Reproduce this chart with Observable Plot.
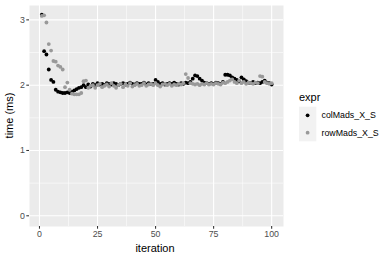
<!DOCTYPE html>
<html>
<head>
<meta charset="utf-8">
<script src="https://cdn.jsdelivr.net/npm/d3@7"></script>
<script src="https://cdn.jsdelivr.net/npm/@observablehq/plot@0.6"></script>
<style>
  html, body { margin: 0; padding: 0; background: #fff; }
  #chart { position: relative; width: 390px; height: 260px; }
</style>
</head>
<body>
<div id="chart"></div>
<script>
const seriesNames = ["colMads_X_S", "rowMads_X_S"];
const seriesColors = ["#000000", "#999999"];
const colMads = [3.08,2.52,2.47,2.24,2.08,2.05,1.93,1.90,1.89,1.88,
 1.88,1.89,1.88,1.90,1.92,1.94,1.96,1.97,2.00,1.97,
 2.01,1.98,2.02,2.00,2.03,2.01,2.02,2.00,2.03,2.02,
 2.01,2.03,2.02,2.00,2.02,2.03,2.01,2.02,2.04,2.02,
 2.01,2.03,2.02,2.02,2.04,2.01,2.03,2.02,2.02,2.08,
 2.05,2.02,2.03,2.01,2.02,2.03,2.02,2.04,2.02,2.01,
 2.03,2.02,2.04,2.03,2.05,2.10,2.15,2.14,2.10,2.07,
 2.04,2.03,2.02,2.03,2.02,2.04,2.03,2.02,2.05,2.16,
 2.16,2.15,2.12,2.10,2.08,2.06,2.12,2.09,2.06,2.04,
 2.03,2.05,2.03,2.04,2.03,2.05,2.07,2.04,2.03,2.01];
const rowMads = [3.06,3.07,2.96,2.63,2.53,2.37,2.36,2.30,2.28,2.24,
 1.97,2.04,1.93,1.87,1.86,1.86,1.86,1.88,2.06,2.07,
 1.96,1.99,2.00,1.96,2.00,2.02,1.97,1.99,2.01,1.98,
 2.03,1.99,1.96,2.00,2.02,1.97,2.01,1.99,2.03,1.98,
 2.00,2.02,1.99,2.00,2.03,1.99,2.01,2.02,2.00,2.03,
 2.00,1.98,2.01,2.02,2.00,2.02,1.99,2.01,2.00,2.02,
 2.01,2.03,2.17,2.11,2.03,2.02,2.01,2.02,2.00,2.02,
 2.01,2.03,2.01,2.02,2.01,2.03,2.02,2.01,2.04,2.03,
 2.05,2.07,2.09,2.05,2.03,2.07,2.03,2.05,2.02,2.04,
 2.03,2.02,2.04,2.03,2.14,2.13,2.05,2.03,2.02,2.03];
const xTicks = [0, 25, 50, 75, 100];
const xMinor = [12.5, 37.5, 62.5, 87.5];
const yTicks = [0, 1, 2, 3];
const yMinor = [0.5, 1.5, 2.5];

const data = [];
colMads.forEach((v, i) => data.push({iteration: i + 1, time: v, expr: seriesNames[0]}));
rowMads.forEach((v, i) => data.push({iteration: i + 1, time: v, expr: seriesNames[1]}));

const font = "Liberation Sans, Arial, Helvetica, sans-serif";

const plot = Plot.plot({
  width: 390,
  height: 260,
  marginLeft: 29,
  marginRight: 107,
  marginTop: 5,
  marginBottom: 34,
  style: {fontFamily: font, background: "#ffffff", overflow: "visible"},
  x: {domain: [-4.3, 105.1], ticks: xTicks, label: null, axis: null},
  y: {domain: [-0.164, 3.22], ticks: yTicks, label: null, axis: null},
  color: {domain: seriesNames, range: seriesColors},
  marks: [
    Plot.frame({fill: "#EBEBEB", stroke: null}),
    Plot.gridX(xMinor, {stroke: "#ffffff", strokeOpacity: 1, strokeWidth: 0.55}),
    Plot.gridY(yMinor, {stroke: "#ffffff", strokeOpacity: 1, strokeWidth: 0.55}),
    Plot.gridX(xTicks, {stroke: "#ffffff", strokeOpacity: 1, strokeWidth: 1.07}),
    Plot.gridY(yTicks, {stroke: "#ffffff", strokeOpacity: 1, strokeWidth: 1.07}),
    Plot.axisX({ticks: xTicks, tickFormat: d => String(d), tickSize: 2.7, tickPadding: 2, stroke: "#333333", strokeWidth: 1.07, fill: "#4D4D4D", fontSize: 8.8, label: null}),
    Plot.axisY({ticks: yTicks, tickFormat: d => String(d), tickSize: 2.7, tickPadding: 2, stroke: "#333333", strokeWidth: 1.07, fill: "#4D4D4D", fontSize: 8.8, label: null}),
    Plot.dot(data, {x: "iteration", y: "time", fill: "expr", r: 1.9, stroke: null})
  ]
});

const svg = d3.select(plot);
// Axis titles
svg.append("text").attr("x", 155).attr("y", 252).attr("text-anchor", "middle")
  .attr("font-family", font).attr("font-size", 11).attr("fill", "#000").text("iteration");
svg.append("text").attr("transform", "translate(13,115.5) rotate(-90)").attr("text-anchor", "middle")
  .attr("font-family", font).attr("font-size", 11).attr("fill", "#000").text("time (ms)");
// Legend
const lg = svg.append("g").attr("text-anchor", "start");
lg.append("text").attr("x", 299).attr("y", 101).attr("text-anchor", "start").attr("font-family", font).attr("font-size", 11).attr("fill", "#000").text("expr");
seriesNames.forEach((name, k) => {
  const y0 = 106.7 + k * 17.3;
  lg.append("rect").attr("x", 299).attr("y", y0).attr("width", 17.3).attr("height", 17.3).attr("fill", "#F2F2F2");
  lg.append("circle").attr("cx", 307.6).attr("cy", y0 + 8.65).attr("r", 1.9).attr("fill", seriesColors[k]);
  lg.append("text").attr("x", 321.5).attr("y", y0 + 8.65).attr("dy", "0.35em").attr("text-anchor", "start").attr("font-family", font).attr("font-size", 8.8).attr("fill", "#000").text(name);
});

document.getElementById("chart").appendChild(plot);
</script>
</body>
</html>
